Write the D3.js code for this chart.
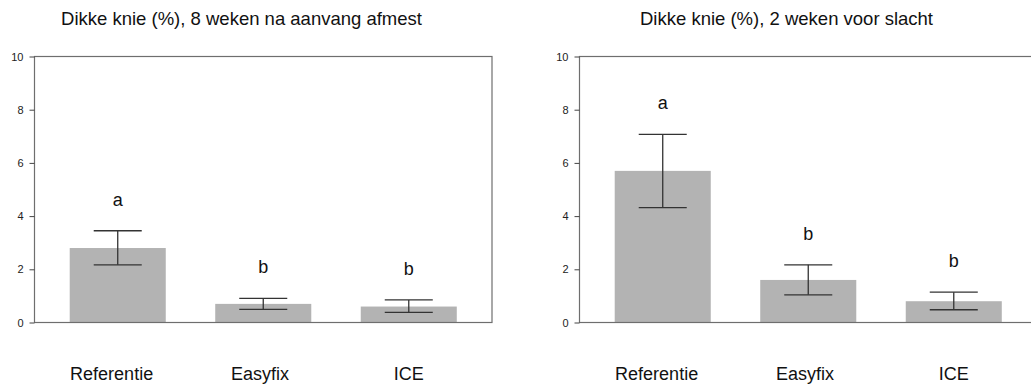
<!DOCTYPE html>
<html><head><meta charset="utf-8">
<script src="https://cdn.jsdelivr.net/npm/d3@7"></script>
<style>body{margin:0;background:#fff}svg{display:block}text{font-family:Arial,"Liberation Sans",sans-serif}</style>
</head><body><svg id="c" width="1031" height="387"></svg>
<script>
const categories = ["Referentie", "Easyfix", "ICE"];
const titles = ["Dikke knie (%), 8 weken na aanvang afmest", "Dikke knie (%), 2 weken voor slacht"];
const means8 = [2.8, 0.70, 0.60];
const lower8 = [2.17, 0.49, 0.38];
const upper8 = [3.45, 0.91, 0.85];
const letters8 = ["a", "b", "b"];
const means2 = [5.7, 1.6, 0.8];
const lower2 = [4.32, 1.04, 0.48];
const upper2 = [7.07, 2.17, 1.14];
const letters2 = ["a", "b", "b"];
const yTicks = [0, 2, 4, 6, 8, 10];

(function () {
const panels = [
  {title: titles[0], means: means8, lower: lower8, upper: upper8, letters: letters8, x0: 34.5},
  {title: titles[1], means: means2, lower: lower2, upper: upper2, letters: letters2, x0: 579.5}
];
const W = 457.5, yTop = 56.5, yBot = 322.5;
const svg = d3.select("#c");

panels.forEach(p => {
  const x = d3.scaleBand().domain(categories).range([p.x0, p.x0 + W]).paddingInner(0.34).paddingOuter(0.242);
  const y = d3.scaleLinear().domain([0, 10]).range([yBot, yTop]);
  const g = svg.append("g");
  const rows = categories.map((c, i) => ({c, m: p.means[i], lo: p.lower[i], hi: p.upper[i], l: p.letters[i]}));

  g.selectAll("rect.bar").data(rows).join("rect").attr("class", "bar")
    .attr("x", d => x(d.c)).attr("width", x.bandwidth())
    .attr("y", d => y(d.m)).attr("height", d => y(0) - y(d.m))
    .attr("fill", "#b3b3b3");

  g.append("rect").attr("x", p.x0).attr("y", yTop).attr("width", W).attr("height", yBot - yTop)
    .attr("fill", "none").attr("stroke", "#6e6e6e").attr("stroke-width", 1.2);

  const ax = g.append("g").attr("transform", `translate(${p.x0},0)`)
    .call(d3.axisLeft(y).tickValues(yTicks).tickSize(5).tickPadding(6));
  ax.select(".domain").remove();
  ax.selectAll(".tick line").attr("stroke", "#444");
  ax.selectAll(".tick text").attr("font-size", 11).attr("fill", "#222").attr("font-family", "Arial, 'Liberation Sans', sans-serif");

  const cap = x.bandwidth() * 0.25;
  const cx = d => x(d.c) + x.bandwidth() / 2;
  const eb = g.selectAll("g.eb").data(rows).join("g").attr("class", "eb")
    .attr("stroke", "#333").attr("stroke-width", 1.3);
  eb.append("line").attr("x1", cx).attr("x2", cx).attr("y1", d => y(d.hi)).attr("y2", d => y(d.lo));
  eb.append("line").attr("x1", d => cx(d) - cap).attr("x2", d => cx(d) + cap).attr("y1", d => y(d.hi)).attr("y2", d => y(d.hi));
  eb.append("line").attr("x1", d => cx(d) - cap).attr("x2", d => cx(d) + cap).attr("y1", d => y(d.lo)).attr("y2", d => y(d.lo));

  g.selectAll("text.let").data(rows).join("text").attr("class", "let")
    .attr("x", cx).attr("y", d => y(d.hi) - 25)
    .attr("text-anchor", "middle").attr("font-size", 18).attr("fill", "#111").text(d => d.l);

  g.selectAll("text.cat").data(rows).join("text").attr("class", "cat")
    .attr("y", 380)
    .attr("text-anchor", "middle").attr("font-size", 18).attr("fill", "#111").text(d => d.c)
    .attr("x", function (d) {
      const len = this.getComputedTextLength();
      return cx(d) - Math.max(0, len - 30) * 0.115;
    });

  g.append("text").attr("x", p.x0 + 207).attr("y", 25).attr("text-anchor", "middle")
    .attr("font-size", 18.5).attr("fill", "#111").text(p.title);
});
})();
</script></body></html>
